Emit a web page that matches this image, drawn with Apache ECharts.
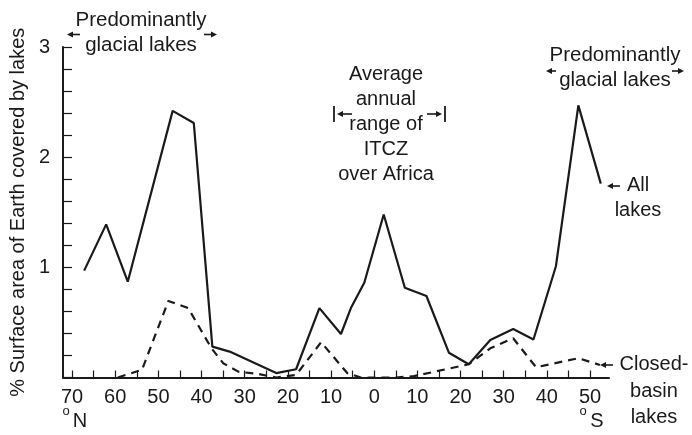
<!DOCTYPE html>
<html>
<head>
<meta charset="utf-8">
<script src="https://cdn.jsdelivr.net/npm/echarts@6/dist/echarts.min.js"></script>
<style>
  html, body { margin: 0; padding: 0; background: #fff; }
  #chart { width: 692px; height: 435px; }
</style>
</head>
<body>
<div id="chart"></div>
<script>
// Latitude: positive = north, negative = south
const latAll = [67.2, 62.1, 57.1, 46.7, 41.8, 37.5, 33.5, 22.7, 18.1, 12.7, 7.7, 5.4, 2.3, -2.2, -7.1, -12.1, -17.3, -21.9, -26.9, -32.2, -36.9, -42.1, -47.3, -52.5];
const allLakes = [0.97, 1.39, 0.87, 2.42, 2.31, 0.28, 0.235, 0.04, 0.075, 0.63, 0.395, 0.63, 0.86, 1.48, 0.815, 0.74, 0.225, 0.12, 0.34, 0.44, 0.345, 1.01, 2.47, 1.76];

const latClosed = [59.4, 53.8, 47.7, 43.1, 37.7, 35.0, 31.5, 26.9, 22.7, 18.1, 12.3, 6.2, 3.1, -5.0, -9.2, -21.9, -26.9, -32.2, -37.5, -47.3, -52.3];
const closedBasin = [0, 0.07, 0.695, 0.63, 0.265, 0.13, 0.053, 0.032, 0, 0.023, 0.32, 0.038, 0, 0, 0.012, 0.12, 0.265, 0.356, 0.093, 0.175, 0.114];

const xLabelLats = [70, 60, 50, 40, 30, 20, 10, 0, -10, -20, -30, -40, -50];
const xTickLats = [70, 65, 60, 55, 50, 45, 40, 35, 30, 25, 20, 15, 10, 5, 0, -5, -10, -15, -20, -25, -30, -35, -40, -45, -50];

const FONT = '"Liberation Sans", Arial, Helvetica, sans-serif';
const INK = '#1a1a1a';

function pairs(xs, ys) { return xs.map((x, i) => [x, ys[i]]); }

// small filled arrow: tip at (tx, y), dir -1 points left, +1 points right
function arrow(tx, y, dir, len) {
  const head = 6, half = 3;
  const tail = tx - dir * len;
  const base = tx - dir * head;
  return [
    { type: 'line', silent: true, shape: { x1: tail, y1: y, x2: base, y2: y }, style: { stroke: INK, lineWidth: 1.6 } },
    { type: 'polygon', silent: true, shape: { points: [[tx, y], [base, y - half], [base, y + half]] }, style: { fill: INK } }
  ];
}
function vbar(x, y1, y2) {
  return { type: 'line', silent: true, shape: { x1: x, y1: y1, x2: x, y2: y2 }, style: { stroke: INK, lineWidth: 1.8 } };
}
function label(text, x, y, size, lineHeight) {
  return {
    type: 'text', silent: true,
    style: { text: text, x: x, y: y, fill: INK, font: size + 'px ' + FONT, align: 'center', verticalAlign: 'middle', lineHeight: lineHeight || 25 }
  };
}

const chart = echarts.init(document.getElementById('chart'), null, { renderer: 'canvas' });

const graphics = [
  label('Predominantly\nglacial lakes', 141, 32.5, 20.5),
  ...arrow(67, 34.5, -1, 13),
  ...arrow(217, 34.5, 1, 13),

  label('Predominantly\nglacial lakes', 615, 68, 20.5),
  ...arrow(546, 71, -1, 10),
  ...arrow(684, 71, 1, 12),

  label('Average\nannual\nrange of\nITCZ\nover Africa', 386, 124.5, 20),
  vbar(334, 106, 122),
  ...arrow(337, 114, -1, 15),
  vbar(445, 106, 122),
  ...arrow(442, 114, 1, 15),

  label('All\nlakes', 638, 198, 20),
  ...arrow(607, 186, -1, 13),

  label('Closed-\nbasin\nlakes', 654, 391, 20, 26.5),
  ...arrow(600, 365, -1, 13),

  label('o', 66, 411, 13),
  label('N', 80, 421, 20),
  label('o', 583, 411, 13),
  label('S', 597, 421, 20)
];

chart.setOption({
  animation: false,
  backgroundColor: '#fff',
  grid: { left: 61, right: 83, top: 47, bottom: 57.5, containLabel: false },
  xAxis: {
    type: 'value',
    inverse: true,
    min: -54.4,
    max: 72.1,
    splitLine: { show: false },
    axisLine: { onZero: false, lineStyle: { color: INK, width: 2 } },
    axisTick: { inside: true, length: 7, customValues: xTickLats, lineStyle: { color: INK, width: 1.2 } },
    axisLabel: {
      customValues: xLabelLats,
      margin: 10,
      color: INK,
      fontSize: 20,
      fontFamily: FONT,
      formatter: v => String(Math.abs(v))
    }
  },
  yAxis: {
    type: 'value',
    min: 0,
    max: 3,
    interval: 0.2,
    name: '% Surface area of Earth covered by lakes',
    nameLocation: 'middle',
    nameGap: 29,
    nameRotate: 90,
    nameTextStyle: { color: INK, fontSize: 20, fontFamily: FONT },
    splitLine: { show: false },
    axisLine: { show: true, onZero: false, lineStyle: { color: INK, width: 2 } },
    axisTick: { inside: true, length: 9, lineStyle: { color: INK, width: 1.2 } },
    axisLabel: {
      margin: 13,
      color: INK,
      fontSize: 20,
      fontFamily: FONT,
      formatter: v => (Math.abs(v - Math.round(v)) < 1e-6 && Math.round(v) > 0) ? String(Math.round(v)) : ''
    }
  },
  series: [
    {
      name: 'All lakes',
      type: 'line',
      data: pairs(latAll, allLakes),
      symbol: 'none',
      lineStyle: { color: INK, width: 2.2 },
      z: 3
    },
    {
      name: 'Closed-basin lakes',
      type: 'line',
      data: pairs(latClosed, closedBasin),
      symbol: 'none',
      lineStyle: { color: INK, width: 2.2, type: [8, 6] },
      z: 2
    }
  ],
  graphic: graphics
});
</script>
</body>
</html>
